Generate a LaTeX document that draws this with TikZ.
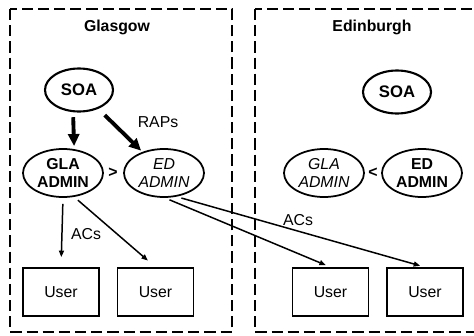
\documentclass[tikz,border=0pt]{standalone}
\usepackage{fontspec}
\setmainfont{Liberation Sans}
\usetikzlibrary{arrows.meta,shapes.geometric}

\begin{document}
\begin{tikzpicture}[site/.style={draw=black,line width=1.4pt,dash pattern=on 6.4pt off 2.8pt},sitename/.style={font=\fontsize{9}{10.5}\selectfont\bfseries},authority/.style={shape=ellipse,draw=black,line width=1.2pt,minimum width=1.36cm,minimum height=0.86cm,inner sep=0pt,font=\fontsize{9.5}{11}\selectfont\bfseries},admin/.style={shape=ellipse,draw=black,line width=1pt,minimum width=1.60cm,minimum height=0.96cm,inner sep=0pt,align=center,font=\fontsize{9}{10.5}\selectfont},userbox/.style={shape=rectangle,draw=black,line width=1pt,minimum width=1.52cm,minimum height=0.96cm,font=\fontsize{9}{10.5}\selectfont},lbl/.style={font=\fontsize{9}{10.5}\selectfont},raps/.style={line width=2.2pt,-{Triangle[length=0.24cm,width=0.22cm]}},acs/.style={line width=0.85pt,-{Triangle[length=0.13cm,width=0.1cm]}}]
\useasboundingbox (0,0) rectangle (9.48,-6.70);
\draw[site] (0.20,-0.18) rectangle (4.64,-6.64);
\draw[site] (5.10,-0.18) rectangle (9.70,-6.64);
\node[sitename] (glasgow) at (2.34,-0.54) {Glasgow};
\node[sitename] (edinburgh) at (7.44,-0.54) {Edinburgh};
% Glasgow side
\node[authority] (soaG) at (1.58,-1.80) {SOA};
\node[admin] (glaG) at (1.26,-3.46) {\bfseries GLA\\\bfseries ADMIN};
\node[admin] (edaG) at (3.28,-3.46) {\itshape ED\\\itshape ADMIN};
\node[lbl] (gtG) at (2.26,-3.46) {\bfseries >};
\node[lbl] (rapsG) at (3.16,-2.44) {RAPs};
\node[lbl] (acsG) at (1.72,-4.68) {ACs};
\node[userbox] (usrG1) at (1.22,-5.84) {User};
\node[userbox] (usrG2) at (3.11,-5.84) {User};
% Edinburgh side
\node[authority] (soaE) at (7.94,-1.84) {SOA};
\node[admin] (glaE) at (6.48,-3.46) {\itshape GLA\\\itshape ADMIN};
\node[admin] (edaE) at (8.44,-3.46) {\bfseries ED\\\bfseries ADMIN};
\node[lbl] (ltE) at (7.46,-3.46) {\bfseries <};
\node[lbl] (acsE) at (5.96,-4.40) {ACs};
\node[userbox] (usrE1) at (6.61,-5.84) {User};
\node[userbox] (usrE2) at (8.50,-5.84) {User};
\draw[raps,shorten <=0.1cm,shorten >=0.06cm] (soaG.255) -- (glaG.65);
\draw[raps,shorten <=0.18cm,shorten >=1pt] (soaG) -- (edaG);
\draw[acs,shorten <=0.12cm,shorten >=0.2cm] (glaG.south) -- (usrG1.north);
\draw[acs,shorten <=0.1cm,shorten >=0.2cm] (glaG.-65) -- (usrG2.north);
\draw[acs,shorten <=0.1cm,shorten >=0.1cm] (edaG.-88) -- (usrE1.north);
\draw[acs,shorten <=0.1cm,shorten >=0.1cm] (edaG.-62) -- (usrE2.north);
\end{tikzpicture}
\end{document}
